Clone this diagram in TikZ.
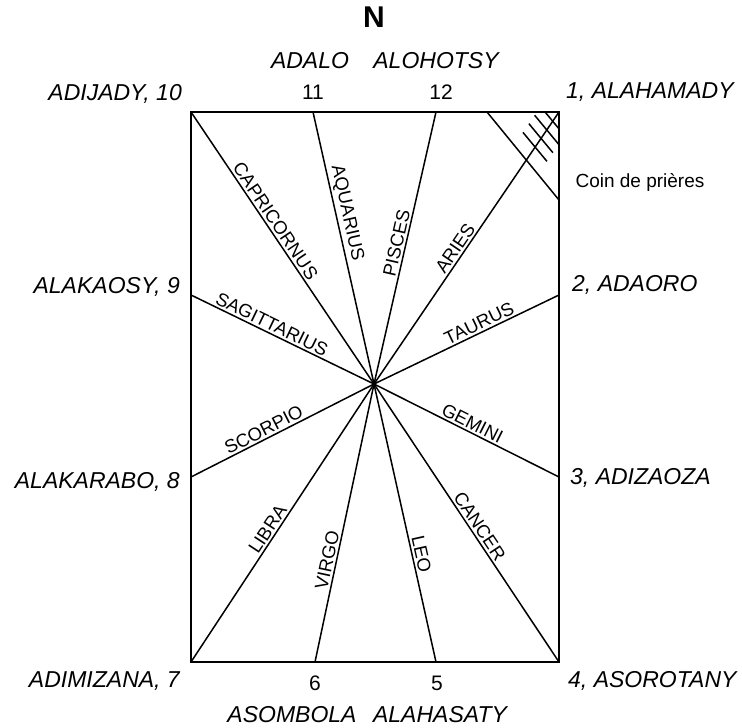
\documentclass[tikz,border=0pt]{standalone}
\usepackage{fontspec}
\setmainfont{Liberation Sans}
\usepackage{tikz}
\usetikzlibrary{
  calc,
  positioning
}

\begin{document}
\begin{tikzpicture}
  [
    x=1pt, y=-1pt,
    frame/.style={line width=2.6pt, line join=miter},
    ray/.style={line width=1.5pt},
    sign/.style={sloped, above, inner sep=2pt, font=\fontsize{18.5}{18.5}\selectfont},
    dir/.style={inner sep=0pt, font=\itshape\fontsize{23}{23}\selectfont},
    num/.style={inner sep=0pt, font=\fontsize{21}{21}\selectfont},
  ]
  \useasboundingbox (0,0) rectangle (742,728);
  % corners and the points on the sides
  \coordinate (c)   at (374,384);
  \coordinate (p10) at (191,112);
  \coordinate (p11) at (313,112);
  \coordinate (p12) at (436,112);
  \coordinate (p1)  at (559,112);
  \coordinate (p2)  at (559,295);
  \coordinate (p3)  at (559,477);
  \coordinate (p4)  at (559,662);
  \coordinate (p5)  at (436,662);
  \coordinate (p6)  at (315,662);
  \coordinate (p7)  at (191,662);
  \coordinate (p8)  at (191,477);
  \coordinate (p9)  at (191,295);
  \coordinate (q1)  at (487,112);
  \coordinate (q2)  at (559,200);

  \draw[ray] (p10) -- (c) node[sign, pos=0.42] {CAPRICORNUS};
  \draw[ray] (p11) -- (c) node[sign, pos=0.38] {AQUARIUS};
  \draw[ray] (c) -- (p12) node[sign, pos=0.51] {PISCES};
  \draw[ray] (c) -- (p1)  node[sign, pos=0.48] {ARIES};
  \draw[ray] (c) -- (p2)  node[sign, pos=0.59] {TAURUS};
  \draw[ray] (c) -- (p3)  node[sign, pos=0.51] {GEMINI};
  \draw[ray] (c) -- (p4)  node[sign, pos=0.53] {CANCER};
  \draw[ray] (c) -- (p5)  node[sign, pos=0.62] {LEO};
  \draw[ray] (p6) -- (c)  node[sign, pos=0.36] {VIRGO};
  \draw[ray] (p7) -- (c)  node[sign, pos=0.46] {LIBRA};
  \draw[ray] (p8) -- (c)  node[sign, pos=0.42] {SCORPIO};
  \draw[ray] (p9) -- (c)  node[sign, pos=0.42] {SAGITTARIUS};

  % prayer corner
  \draw[ray] (q1) -- (q2);
  \begin{scope}
    \clip (p10) rectangle (p4);
    \foreach \t in {0.035,0.067,0.098,0.13}
      \draw[ray] ($(p1)!\t!(c)$) ++(-12,-15) -- ++(24,29);
  \end{scope}

  \draw[frame] (p10) rectangle (p4);

  % names round the house
  \node[font=\bfseries\fontsize{30}{30}\selectfont] (north) at (374,17) {N};
  \node[dir] (adalo)     at (310,61)  {ADALO};
  \node[dir] (alohotsy)  at (436,61)  {ALOHOTSY};
  \node[num] (n11)       at (313,92)  {11};
  \node[num] (n12)       at (441,92)  {12};
  \node[dir, anchor=east] (adijady)   at (182,94)  {ADIJADY, 10};
  \node[dir, anchor=west] (alahamady) at (566,92)  {1, ALAHAMADY};
  \node[font=\fontsize{19}{19}\selectfont, inner sep=0pt] (coin) at (640,182) {Coin de prières};
  \node[dir, anchor=east] (alakaosy)  at (180,287) {ALAKAOSY, 9};
  \node[dir, anchor=west] (adaoro)    at (572,285) {2, ADAORO};
  \node[dir, anchor=east] (alakarabo) at (180,482) {ALAKARABO, 8};
  \node[dir, anchor=west] (adizaoza)  at (570,478) {3, ADIZAOZA};
  \node[dir, anchor=east] (adimizana) at (180,681) {ADIMIZANA, 7};
  \node[dir, anchor=west] (asorotany) at (568,681) {4, ASOROTANY};
  \node[num] (n6)        at (315,683) {6};
  \node[num] (n5)        at (437,683) {5};
  \node[dir] (asombola)  at (292,715) {ASOMBOLA};
  \node[dir] (alahasaty) at (440,715) {ALAHASATY};
\end{tikzpicture}
\end{document}
